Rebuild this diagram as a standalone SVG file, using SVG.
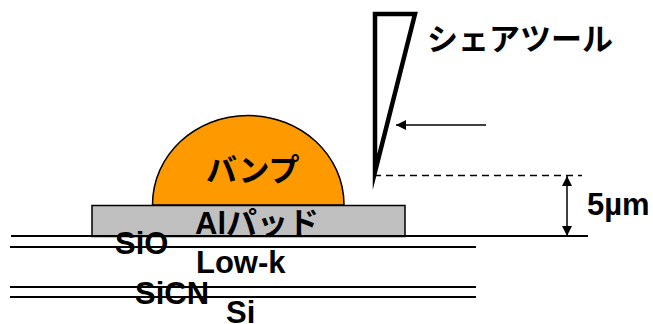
<svg xmlns="http://www.w3.org/2000/svg" width="653" height="324" viewBox="0 0 653 324">
<style>
text{font-family:"Liberation Sans","Noto Sans CJK JP",sans-serif;font-weight:700;font-size:31px;fill:#000}
.l{stroke:#000;stroke-width:2;fill:none}
.t{stroke:#000;stroke-width:1.5;fill:none}
</style>
<defs>
<marker id="a" viewBox="0 0 10 10" refX="10" refY="5" markerWidth="10" markerHeight="10" markerUnits="userSpaceOnUse" orient="auto-start-reverse"><path d="M0 0L10 5L0 10Z" fill="#000"/></marker>
</defs>
<g id="bump"><path d="M152.500 205C152.500 155 195 115.500 248 115.500C301 115.500 344 155 344 205Z" fill="#f90" stroke="#000" stroke-width="1.500"/><text x="206" y="181">バンプ</text></g>
<g id="pad"><rect x="92" y="205.500" width="313" height="31" fill="#c0c0c0" stroke="#000" stroke-width="1.500"/><text x="195" y="234">Alパッド</text></g>
<g id="layers">
<path class="l" d="M11 236H588M10 247H476M10 287H476M10 297H476"/>
<text x="115" y="254">SiO</text><text x="196" y="273">Low-k</text><text x="135" y="304">SiCN</text><text x="226" y="323">Si</text>
</g>
<g id="tool"><path d="M375 14H415L375 172Z" fill="#fff" stroke="#000" stroke-width="4.500" stroke-miterlimit="20"/><text x="427" y="50">シェアツール</text></g>
<g id="connectors">
<path class="t" d="M486 125H396" marker-end="url(#a)"/>
<path d="M374 175.500H582" stroke="#000" stroke-width="1.500" stroke-dasharray="7 5" fill="none"/>
<path class="t" d="M567 176V236" marker-start="url(#a)" marker-end="url(#a)"/>
</g>
<text id="dim" x="587" y="215">5µm</text>
</svg>
